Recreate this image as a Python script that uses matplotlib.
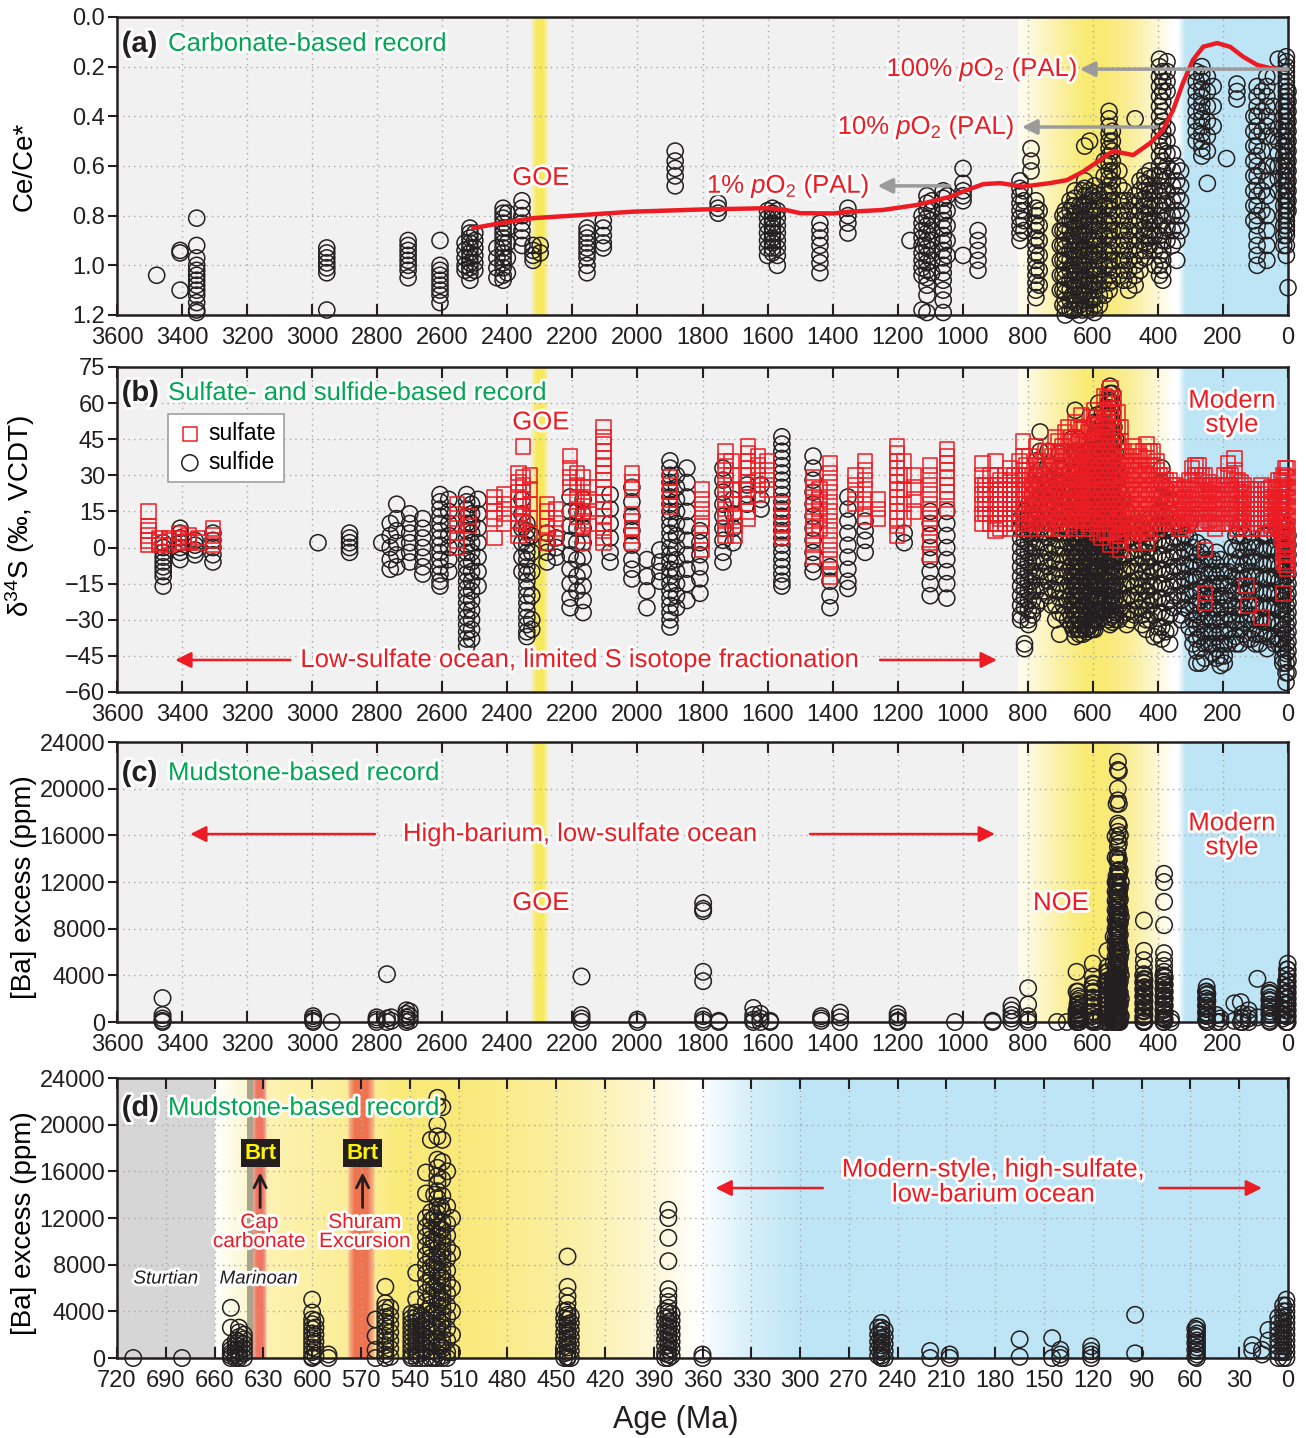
import numpy as np
import matplotlib
matplotlib.use("Agg")
import matplotlib.pyplot as plt
from matplotlib import patheffects as pe
from matplotlib.colors import to_rgb

plt.rcParams['font.family'] = ['Liberation Sans', 'DejaVu Sans']
plt.rcParams['mathtext.fontset'] = 'custom'
plt.rcParams['mathtext.rm'] = 'Liberation Sans'
plt.rcParams['mathtext.it'] = 'Liberation Sans:italic'
plt.rcParams['mathtext.bf'] = 'Liberation Sans:bold'

RED = '#ed1c24'
GREEN = '#00a651'
INK = '#231f20'

# ---------------- (a) carbonate Ce/Ce* ----------------
ce_age = [3478, 3406, 3355, 2955, 2705, 2607, 2530, 2515, 2500, 2432, 2413, 2400,
          2355, 2321, 2299, 2155, 2105, 1884, 1752, 1600, 1585, 1570, 1439, 1353,
          1162, 1125, 1110, 1095, 1060, 1048, 999, 953,
          824, 812, 790, 775, 765, 700, 685, 670, 655, 640, 625, 610, 595, 580, 565,
          550, 540, 520, 505, 490, 470, 455, 440, 425, 410, 395, 385, 372, 355, 342,
          330, 282, 265, 248, 230, 189, 157, 105, 95, 80, 65, 45, 30, 13, 5, 0,
          692, 662, 632, 602]
ce_val = [
    [1.04], [0.94, 0.95, 1.10],
    [0.81, 0.92, 0.97, 1.00, 1.02, 1.04, 1.06, 1.08, 1.10, 1.12, 1.15, 1.18, 1.19],
    [0.93, 0.95, 0.97, 0.99, 1.01, 1.03, 1.18],
    [0.90, 0.92, 0.94, 0.96, 0.98, 1.00, 1.02, 1.05],
    [0.90, 1.00, 1.02, 1.04, 1.06, 1.08, 1.10, 1.12, 1.15],
    [0.91, 0.94, 0.97, 1.00, 1.02],
    [0.85, 0.87, 0.89, 0.91, 0.93, 0.95, 0.97, 0.99, 1.01, 1.03, 1.06],
    [0.87, 0.90, 0.93, 0.96, 0.99, 1.02],
    [0.93, 0.97, 1.01, 1.05],
    [0.77, 0.79, 0.81, 0.83, 0.85, 0.87, 0.89, 0.91, 0.93, 0.95, 0.97, 0.99, 1.01,
     1.04, 1.06],
    [0.79, 0.85, 0.91, 0.97, 1.03],
    [0.74, 0.77, 0.80, 0.83, 0.86, 0.89, 0.92],
    [0.92, 0.94, 0.96, 0.98], [0.92, 0.95],
    [0.85, 0.87, 0.89, 0.91, 0.93, 0.95, 0.97, 1.00, 1.03],
    [0.82, 0.85, 0.88, 0.91, 0.93],
    [0.54, 0.58, 0.61, 0.64, 0.68],
    [0.75, 0.77, 0.79],
    [0.78, 0.81, 0.84, 0.87, 0.90, 0.93, 0.96],
    [0.77, 0.79, 0.81, 0.83, 0.85, 0.87, 0.89, 0.91, 0.93, 0.95],
    [0.78, 0.81, 0.84, 0.87, 0.90, 0.93, 0.96, 1.00],
    [0.83, 0.86, 0.89, 0.92, 0.96, 0.99, 1.03],
    [0.77, 0.80, 0.83, 0.87],
    [0.90],
    [0.80, 0.83, 0.86, 0.89, 0.92, 0.95, 0.98, 1.01, 1.04, 1.18],
    [0.72, 0.75, 0.78, 0.81, 0.84, 0.87, 0.90, 0.93, 0.96, 0.99, 1.02, 1.05, 1.08,
     1.12, 1.19],
    [0.74, 0.78, 0.82, 0.86, 0.90, 0.94, 0.98, 1.03],
    [0.70, 0.73, 0.76, 0.79, 0.82, 0.85, 0.88, 0.91, 0.94, 0.97, 1.00, 1.03, 1.06,
     1.10, 1.14, 1.19],
    [0.72, 0.78, 0.84, 0.90, 0.96],
    [0.61, 0.67, 0.70, 0.72, 0.74, 0.96],
    [0.86, 0.90, 0.94, 0.98, 1.02],
    [0.66, 0.69, 0.72, 0.75, 0.78, 0.81, 0.84, 0.87, 0.90],
    [0.70, 0.74, 0.78, 0.82, 0.86],
    [0.53, 0.58, 0.62],
    [0.74, 0.77, 0.80, 0.83, 0.86, 0.89, 0.92, 0.95, 0.98, 1.01, 1.04, 1.07, 1.10,
     1.13],
    [0.78, 0.84, 0.90, 0.96, 1.02, 1.08],
    [0.86, 0.92, 0.98, 1.04, 1.10],
    [0.78, 0.81, 0.84, 0.87, 0.90, 0.93, 0.96, 0.99, 1.02, 1.05, 1.08, 1.11, 1.14,
     1.17, 1.20],
    [0.74, 0.78, 0.82, 0.86, 0.90, 0.94, 0.98, 1.02, 1.06, 1.10, 1.14, 1.18],
    [0.70, 0.73, 0.76, 0.79, 0.82, 0.85, 0.88, 0.91, 0.94, 0.97, 1.00, 1.03, 1.06,
     1.09, 1.12, 1.15, 1.18],
    [0.76, 0.80, 0.84, 0.88, 0.92, 0.96, 1.00, 1.04, 1.08, 1.12, 1.16, 1.20],
    [0.52, 0.66, 0.69, 0.72, 0.75, 0.78, 0.81, 0.84, 0.87, 0.90, 0.93, 0.96, 0.99,
     1.02, 1.05, 1.08, 1.11, 1.14, 1.17],
    [0.50, 0.70, 0.74, 0.78, 0.82, 0.86, 0.90, 0.94, 0.98, 1.02, 1.06, 1.10, 1.14,
     1.18],
    [0.68, 0.71, 0.74, 0.77, 0.80, 0.83, 0.86, 0.89, 0.92, 0.95, 0.98, 1.01, 1.04,
     1.07, 1.10, 1.13, 1.16, 1.19],
    [0.72, 0.76, 0.80, 0.84, 0.88, 0.92, 0.96, 1.00, 1.04, 1.08, 1.12, 1.16],
    [0.58, 0.64, 0.70, 0.76, 0.82, 0.88, 0.94, 1.00, 1.06, 1.12],
    [0.38, 0.41, 0.44, 0.47, 0.50, 0.53, 0.56, 0.59, 0.62, 0.65, 0.68, 0.71, 0.74,
     0.77, 0.80, 0.83, 0.86, 0.89, 0.92, 0.95, 0.98, 1.01, 1.04, 1.07, 1.10],
    [0.46, 0.50, 0.54, 0.58, 0.62, 0.66, 0.70, 0.74, 0.78, 0.82, 0.86, 0.90, 0.94,
     0.98, 1.02, 1.06],
    [0.62, 0.68, 0.74, 0.80, 0.86, 0.92, 0.98, 1.04],
    [0.70, 0.74, 0.78, 0.82, 0.86, 0.90, 0.94, 0.98, 1.02, 1.06],
    [0.74, 0.78, 0.82, 0.86, 0.90, 0.94, 0.98, 1.02, 1.06, 1.10],
    [0.41, 0.72, 0.76, 0.80, 0.84, 0.88, 0.92, 0.96, 1.00, 1.04, 1.08],
    [0.66, 0.70, 0.74, 0.78, 0.82, 0.86, 0.90, 0.94, 0.98, 1.02],
    [0.64, 0.67, 0.70, 0.73, 0.76, 0.79, 0.82, 0.85, 0.88, 0.91, 0.94, 0.97],
    [0.62, 0.65, 0.68, 0.71, 0.74, 0.77, 0.80, 0.83, 0.86, 0.89, 0.92],
    [0.64, 0.70, 0.76, 0.82, 0.88, 0.94, 1.00],
    [0.17, 0.20, 0.24, 0.28, 0.32, 0.36, 0.40, 0.44, 0.48, 0.52, 0.56, 0.60, 0.64,
     0.68, 0.72, 0.76, 0.80, 0.84, 0.88, 0.92, 0.96, 1.00, 1.04],
    [0.22, 0.26, 0.30, 0.34, 0.38, 0.42, 0.46, 0.50, 0.54, 0.58, 0.62, 0.66, 0.70,
     0.74, 0.78, 0.82, 0.86, 0.90, 0.94, 0.98, 1.02, 1.06],
    [0.18, 0.22, 0.26, 0.30, 0.45, 0.50, 0.55, 0.60, 0.65, 0.70, 0.75, 0.80, 0.85,
     0.90],
    [0.55, 0.62, 0.68, 0.74, 0.80, 0.86, 0.92],
    [0.60, 0.66, 0.72, 0.78, 0.84, 0.90, 0.98],
    [0.62, 0.68, 0.74, 0.80, 0.86],
    [0.22, 0.26, 0.30, 0.34, 0.38, 0.42, 0.46, 0.50],
    [0.20, 0.23, 0.26, 0.29, 0.32, 0.35, 0.38, 0.41, 0.44, 0.47, 0.50, 0.53, 0.56],
    [0.24, 0.30, 0.36, 0.42, 0.48, 0.54, 0.67],
    [0.28, 0.36, 0.44],
    [0.57],
    [0.27, 0.30, 0.33],
    [0.40, 0.46, 0.52, 0.58, 0.64, 0.70, 0.76, 0.82],
    [0.28, 0.32, 0.36, 0.40, 0.44, 0.48, 0.52, 0.56, 0.60, 0.64, 0.68, 0.72, 0.76,
     0.80, 0.84, 0.88, 0.92, 0.96, 1.00],
    [0.30, 0.38, 0.46, 0.54, 0.62, 0.70, 0.78],
    [0.24, 0.28, 0.32, 0.36, 0.40, 0.44, 0.48, 0.60, 0.66, 0.72, 0.80, 0.86, 0.92,
     0.98],
    [0.24, 0.36, 0.48, 0.60],
    [0.17, 0.45, 0.50, 0.55, 0.60, 0.65, 0.70],
    [0.36, 0.40, 0.44, 0.48, 0.52, 0.56, 0.60, 0.64, 0.68, 0.72, 0.76, 0.80, 0.84,
     0.88, 0.92],
    [0.16, 0.18, 0.20, 0.22, 0.24, 0.26, 0.28, 0.30, 0.32, 0.34, 0.36, 0.38, 0.40,
     0.42, 0.44, 0.46, 0.48, 0.50, 0.52, 0.54, 0.56, 0.58, 0.60, 0.62, 0.64, 0.66,
     0.68, 0.70, 0.72, 0.74, 0.76, 0.78, 0.80, 0.82, 0.84, 0.86, 0.88, 0.92, 0.96],
    [0.30, 0.34, 0.38, 0.42, 0.46, 0.50, 0.54, 0.58, 0.62, 0.66, 0.70, 0.74, 0.78,
     1.09],
    [0.80, 0.86, 0.92, 0.98, 1.04, 1.10, 1.16],
    [0.76, 0.82, 0.88, 0.94, 1.00, 1.06, 1.12, 1.18],
    [0.70, 0.76, 0.82, 0.88, 0.94, 1.00, 1.06, 1.12, 1.18],
    [0.72, 0.78, 0.84, 0.90, 0.96, 1.02, 1.08, 1.14],
]

# smoothed Ce/Ce* trend
trend_age = [2505, 2420, 2321, 2200, 2014, 1800, 1602, 1550, 1500, 1399, 1346, 1245,
             1141, 1039, 987, 937, 885, 815, 732, 680, 630, 578, 538, 476, 424, 384,
             353, 323, 292, 261, 218, 178, 138, 95, 55, 3, 0]
trend_ce = [0.850, 0.830, 0.810, 0.800, 0.784, 0.775, 0.770, 0.775, 0.790, 0.791,
            0.784, 0.777, 0.757, 0.724, 0.697, 0.673, 0.669, 0.683, 0.669, 0.657,
            0.623, 0.576, 0.540, 0.556, 0.508, 0.455, 0.374, 0.266, 0.173, 0.120,
            0.105, 0.120, 0.160, 0.193, 0.206, 0.213, 0.214]

# ---------------- (b) sulfur isotopes ----------------
sulfide_age = [3458, 3406, 3360, 3305, 2982, 2885, 2786, 2760, 2740, 2700, 2660, 2607,
               2580, 2525, 2510, 2490, 2355, 2340, 2325, 2278, 2250, 2207, 2186, 2167,
               2084, 2017, 1971, 1931, 1900, 1880, 1848, 1808, 1737, 1706, 1663, 1620,
               1556, 1460, 1408, 1353, 1300, 1180, 1100, 1049,
               822, 810, 798, 786, 774, 762, 750, 738, 726, 714, 702, 690, 678, 666,
               654, 642, 630, 618, 606, 594, 582, 570, 558, 547, 540, 530, 520, 508,
               496, 484, 472, 460, 448, 436, 424, 412, 400, 388, 376, 364, 352, 340,
               328, 316, 304, 292, 280, 268, 256, 244, 232, 220, 208, 196, 184, 172,
               160, 148, 136, 124, 112, 100, 88, 76, 64, 52, 40, 28, 16, 6, 0,
               660, 648, 636, 624, 612, 600, 588, 576, 564, 552, 535]
sulfide_d34s = [
    [2, 0, -2, -4, -6, -8, -10, -12, -16], [8, 6, 4, 2, 0, -2, -5], [3, 1, -1, -3],
    [6, 3, 0, -3, -6], [2], [6, 4, 2, 0, -2], [2], [10, 5, 0, -5, -9],
    [18, 12, 7, 2, -3, -8], [14, 10, 6, 2, -2, -6], [12, 8, 4, 0, -4, -8, -11],
    [22, 19, 16, 13, 10, 7, 4, 1, -2, -5, -8, -11, -14, -16],
    [20, 15, 10, 5, 0, -5, -10],
    [22, 19, 16, 13, 10, 7, 4, 1, -2, -5, -8, -11, -14, -17, -20, -23, -26, -29, -32,
     -35, -38, -41],
    [18, 14, 10, 6, 2, -2, -6, -10, -14, -18, -22, -26, -30, -34, -38],
    [20, 14, 8, 2, -4, -10, -16], [20, 14, 8, 2, -4, -10],
    [10, 7, 4, 1, -2, -5, -8, -11, -14, -17, -20, -23, -26, -29, -32, -35, -37],
    [5, -2, -10, -20, -30, -34],
    [6, 2, -2, -6], [4, 0, -4], [21, 15, 9, 3, -3, -9, -15, -21, -25],
    [15, 8, 2, -5, -12, -18], [20, 14, 8, 2, -4, -10, -16, -22, -27],
    [22, 16, 10, 4, -2, -6], [25, 19, 13, 7, 1, -5, -9, -13], [-5, -12, -18, -25],
    [-1, -6, -10, -14],
    [36, 33, 30, 27, 24, 21, 18, 15, 12, 9, 6, 3, 0, -3, -6, -9, -12, -15, -18, -21,
     -24, -27, -30, -33],
    [30, 25, 20, 15, 10, 5, 0, -5, -10, -15, -20, -25],
    [33, 27, 21, 15, 9, 3, -3, -9, -15, -22], [7, 2, -3, -8, -13, -19],
    [33, 28, 23, 18, 13, 8, 3, -2, -6], [20, 14, 8, 2], [26, 22, 18], [26, 20, 16],
    [46, 43, 40, 37, 34, 31, 28, 25, 22, 19, 16, 13, 10, 7, 4, 1, -2, -5, -8, -11,
     -14, -16],
    [38, 33, 28, 23, 18, 13, 8, 3, -2, -7, -10], [-8, -14, -20, -25],
    [21, 16, 11, 6, 1, -4, -9, -14, -17], [11, 7, 3, -2], [6, 2],
    [15, 10, 5, 0, -5, -10, -15, -20], [15, 10, 5, 0, -5, -10, -15, -21],
    [12, 8, 4, 0, -4, -8, -12, -16, -20, -24, -28, -30],
    [15, 11, 7, 3, -1, -5, -9, -13, -17, -21, -25, -40, -42],
    [18, 14, 10, 6, 2, -2, -6, -10, -14, -18, -22, -26, -30, -32],
    [26, 22, 18, 14, 10, 6, 2, -2, -6, -10, -14, -18, -22, -26, -28],
    [36, 30, 24, 18, 12, 6, 0, -6, -12, -18, -24],
    [48, 40, 32, 26, 20, 14, 8, 2, -4, -10, -16, -22],
    [30, 24, 18, 12, 6, 0, -6, -12, -18],
    [40, 34, 28, 22, 16, 10, 4, -2, -8, -14, -20],
    [25, 19, 13, 7, 1, -5, -11, -17, -24],
    [30, 24, 18, 12, 6, 0, -6, -12, -18, -24, -30],
    [39, 33, 27, 21, 15, 9, 3, -3, -9, -15, -21, -27, -36],
    [30, 24, 18, 12, 6, 0, -6, -12, -18, -24, -28],
    [20, 14, 8, 2, -4, -10, -16, -22, -30],
    [45, 38, 32, 26, 20, 14, 8, 4, 0, -4, -8, -12, -16, -20, -24, -28, -32],
    [57, 40, 34, 28, 22, 16, 12, 8, 4, 0, -4, -8, -12, -16, -20, -24, -28, -32, -37],
    [45, 38, 32, 26, 20, 14, 10, 6, 2, -2, -6, -10, -14, -18, -22, -26, -30, -34,
     -36],
    [40, 34, 28, 22, 16, 12, 8, 4, 0, -4, -8, -12, -16, -20, -24, -28, -32, -36],
    [35, 29, 23, 17, 11, 7, 3, -1, -5, -9, -13, -17, -21, -25, -29, -33, -35],
    [40, 34, 28, 22, 16, 10, 4, -2, -8, -14, -20, -26, -32, -34],
    [52, 46, 40, 34, 28, 22, 16, 10, 4, -2, -8, -14, -20, -26, -30, -34],
    [60, 52, 44, 38, 32, 26, 20, 14, 8, 2, -4, -10, -16, -22, -26, -30],
    [56, 48, 42, 36, 30, 24, 18, 12, 6, 0, -6, -12, -18, -22, -26],
    [50, 44, 38, 32, 26, 20, 14, 8, 2, -4, -10, -16, -22, -28],
    [67, 64, 61, 58, 55, 52, 49, 46, 43, 40, 37, 34, 31, 28, 25, 22, 19, 16, 13, 10,
     7, 4, 1, -2, -5, -8, -11, -14, -17, -20, -23, -26, -29, -32],
    [64, 60, 56, 52, 48, 44, 40, 36, 32, 28, 24, 20, 16, 12, 8, 4, 0, -4, -8, -12,
     -16, -20, -24, -28, -31],
    [45, 39, 33, 27, 21, 15, 9, 3, -3, -9, -15, -21, -27, -30],
    [30, 24, 18, 12, 6, 0, -6, -12, -18, -24, -30],
    [20, 14, 8, 2, -4, -10, -16, -22, -28],
    [15, 9, 3, -3, -9, -15, -21, -27, -32],
    [10, 4, -2, -8, -14, -20, -26, -30],
    [8, 2, -4, -10, -16, -22, -28],
    [5, -1, -7, -13, -19, -25],
    [8, 2, -4, -10, -16, -22, -28, -32],
    [10, 6, 2, -2, -6, -10, -14, -18, -22, -26, -30, -34],
    [12, 8, 4, 0, -4, -8, -12, -16, -20, -24, -30],
    [8, 2, -4, -10, -16, -22, -28, -37],
    [15, 9, 3, -3, -9, -15, -21, -27, -33, -36],
    [33, 27, 21, 15, 9, 3, -3, -9, -15, -21, -27, -33, -38],
    [25, 19, 13, 7, 1, -5, -11, -17, -23, -29, -35],
    [20, 14, 8, 2, -4, -10, -16, -22, -28, -34, -40],
    [10, 4, -2, -8, -14, -20, -25],
    [10, 4, -2, -8, -14, -20],
    [8, 2, -4, -10, -16, -22, -28, -30],
    [5, -1, -7, -13, -19, -25],
    [10, 4, -2, -8, -14, -20, -26, -33],
    [0, -6, -12, -18, -24, -30, -36, -40],
    [2, -3, -8, -13, -18, -23, -28, -33, -38, -43, -48],
    [-2, -7, -12, -17, -22, -27, -32, -37, -42, -48],
    [0, -5, -10, -15, -20, -25, -30, -35, -40, -46],
    [-5, -11, -17, -23, -29, -35, -40],
    [-5, -10, -15, -20, -25, -30, -35, -40, -44],
    [-2, -7, -12, -17, -22, -27, -32, -37, -42, -46],
    [-5, -10, -15, -20, -25, -30, -35, -40, -45, -49],
    [-10, -15, -20, -25, -30, -35, -40, -45, -48],
    [-10, -16, -22, -28, -34, -40],
    [0, -6, -12, -18, -24, -30, -38],
    [5, -1, -7, -13, -19, -25, -31, -37, -40],
    [8, 2, -4, -10, -16, -22, -28, -34, -40],
    [5, -1, -7, -13, -19, -25, -31, -36],
    [0, -6, -12, -18, -24, -30, -38],
    [2, -4, -10, -16, -22, -28, -34, -38],
    [0, -6, -12, -18, -24, -30, -36, -40],
    [0, -6, -12, -18, -24, -30, -36, -40],
    [5, -1, -7, -13, -19, -25, -31, -36],
    [5, -1, -7, -13, -19, -25, -31, -37, -42],
    [0, -6, -12, -18, -24, -30, -38],
    [5, -1, -7, -13, -19, -25, -31, -37, -40],
    [10, 4, -2, -8, -14, -20, -26, -32, -38, -40],
    [10, 6, 2, -2, -6, -10, -14, -18, -22, -26, -30, -34, -38, -42, -46, -48],
    [8, 4, 0, -4, -8, -12, -16, -20, -24, -28, -32, -36, -40, -44, -48, -52, -56],
    [5, 1, -3, -7, -11, -15, -19, -23, -27, -31, -35, -39, -43, -47, -52],
    [30, 24, 18, 12, 6, 2, -2, -6, -10, -14, -18, -22, -26, -30, -34],
    [40, 32, 26, 20, 14, 8, 2, -4, -10, -16, -22, -28, -34],
    [36, 28, 22, 16, 10, 6, 2, -2, -6, -10, -14, -18, -22, -26, -30, -34],
    [30, 24, 18, 12, 6, 0, -6, -12, -18, -24, -30, -34],
    [32, 26, 20, 14, 8, 2, -4, -10, -16, -22, -28, -33],
    [45, 38, 31, 24, 18, 12, 6, 0, -6, -12, -18, -24, -30, -34],
    [55, 48, 41, 34, 27, 21, 15, 9, 3, -3, -9, -15, -21, -27, -31],
    [50, 43, 37, 31, 25, 19, 13, 7, 1, -5, -11, -17, -23, -27],
    [46, 40, 34, 28, 22, 16, 10, 4, -2, -8, -14, -20, -26],
    [60, 54, 48, 42, 36, 30, 24, 18, 12, 6, 0, -6, -12, -18, -24, -30],
    [50, 44, 38, 32, 26, 20, 14, 8, 2, -4, -10, -16, -22, -28],
]

sulfate_age = [3504, 3470, 3440, 3410, 3380, 3350, 3305, 2555, 2520, 2440, 2410, 2365,
               2352, 2330, 2278, 2250, 2207, 2186, 2167, 2150, 2105, 2017, 1900, 1802,
               1730, 1710, 1700, 1660, 1630, 1602, 1556, 1460, 1440, 1408, 1330, 1300,
               1260, 1202, 1180, 1150, 1100, 1049, 940, 930, 915, 900, 885, 870, 855,
               840, 825, 815, 805, 795, 785, 775, 765, 755, 745, 735, 725, 715, 705,
               695, 685, 675, 665, 655, 645, 635, 625, 615, 605, 595, 585, 575, 565,
               555, 545, 535, 525, 515, 505, 495, 485, 475, 465, 455, 445, 435, 425,
               415, 405, 395, 385, 375, 365, 355, 345, 335, 325, 315, 305, 295, 285,
               275, 265, 255, 245, 235, 225, 215, 205, 195, 185, 175, 165, 155, 145,
               135, 127, 122, 115, 105, 95, 81, 70, 60, 50, 40, 30, 20, 14, 8, 2]
sulfate_d34s = [
    [15, 9, 7, 5, 3, 1], [4, 2, 1], [4, 3, 1], [6, 4, 2], [5, 3, 2], [4, 2],
    [8, 5, 3, 1], [18, 14, 10, 6, 3, 0], [13, 9], [21, 18, 15, 12, 4],
    [22, 18, 14, 10], [31, 27, 23, 20, 17, 14, 11, 8, 5],
    [42, 29, 26, 23, 20, 17, 13, 10], [30, 24, 18, 12, 6], [18, 15, 12, 9, 6, 2],
    [16, 12, 8, 4], [38, 33, 29, 25], [31, 26, 21, 16, 13],
    [29, 25, 21, 17, 13, 9, 5, 2], [25, 20, 15, 10],
    [50, 46, 43, 40, 37, 34, 31, 28, 25, 22, 19, 16, 13, 10, 7, 4, 2],
    [31, 27, 24, 14, 11, 8, 5, 2], [29, 26, 23, 20, 17], [24, 20, 16, 12, 9, 3, -1],
    [40, 36, 32, 28, 24, 20, 16, 12, 8, 5], [36, 30, 24, 18], [13, 9, 5],
    [42, 39, 36, 33, 30, 27, 24, 21, 18, 15, 12], [38, 34, 30, 26, 22],
    [36, 32, 28, 24], [18, 15, 12, 9, 6, 4], [29, 25, 21, 17, 13, 9, 5, 1, -4],
    [24, 20, 16, 12, 8], [35, 31, 27, 23, 19, 15, 11, 7, 3, -1, -5, -9, -12],
    [30, 26, 22, 18], [36, 32, 28, 24, 20, 16, 13], [20, 16, 12],
    [42, 39, 36, 33, 30, 27, 24, 21, 18, 15, 12, 9, 5], [36, 30, 24, 18, 12],
    [30, 25, 20, 15], [34, 30, 26, 22, 18, 14, 10, 6, 2, -3],
    [41, 38, 35, 32, 29, 26, 23, 20, 16],
    [35, 30, 26, 22, 18, 14, 10], [26, 22, 18, 14], [30, 26, 22, 18, 14, 10],
    [36, 30, 26, 22, 18, 14, 10, 7], [28, 24, 20, 16, 12, 8], [30, 26, 22, 18, 14, 10],
    [33, 28, 24, 20, 16, 12, 8], [30, 26, 22, 18, 14, 10],
    [36, 30, 26, 22, 18, 14, 10], [44, 38, 32, 28, 24, 20, 16, 12, 8],
    [34, 30, 26, 22, 18, 14, 10], [38, 32, 28, 24, 20, 16, 12, 8],
    [30, 26, 22, 18, 14, 10], [42, 36, 30, 26, 22, 18, 14, 10],
    [34, 30, 26, 22, 18, 14, 10], [36, 30, 26, 22, 18, 14, 10],
    [40, 34, 28, 24, 20, 16, 12, 8], [40, 34, 30, 26, 22, 18, 14, 10],
    [38, 32, 28, 24, 20, 16, 12], [46, 40, 34, 30, 26, 22, 18, 14, 10],
    [44, 38, 32, 28, 24, 20, 16, 12, 8], [42, 36, 32, 28, 24, 20, 16, 12, 8],
    [48, 42, 36, 32, 28, 24, 20, 16, 12, 8], [50, 44, 38, 34, 30, 26, 22, 18, 14, 10],
    [46, 40, 36, 32, 28, 24, 20, 16, 12], [52, 46, 40, 36, 32, 28, 24, 20, 16, 12, 8],
    [50, 44, 40, 36, 32, 28, 24, 20, 16, 12], [55, 49, 43, 39, 35, 31, 27, 23, 19, 15, 11],
    [50, 44, 40, 36, 32, 28, 24, 20, 16, 12, 8], [48, 42, 38, 34, 30, 26, 22, 18, 14, 10],
    [54, 48, 44, 40, 36, 32, 28, 24, 20, 16, 12, 8],
    [57, 51, 46, 42, 38, 34, 30, 26, 22, 18, 14, 10],
    [54, 48, 44, 40, 36, 32, 28, 24, 20, 16, 12, 6],
    [50, 46, 42, 38, 34, 30, 26, 22, 18, 14, 10, 4],
    [63, 57, 52, 48, 44, 40, 36, 32, 28, 24, 20, 16, 12, 7],
    [62, 56, 52, 48, 44, 40, 36, 32, 28, 24, 20, 16, 12, 6],
    [66, 62, 58, 54, 50, 46, 42, 38, 34, 30, 26, 22, 18, 14, 10, 6, 1],
    [62, 56, 50, 46, 42, 38, 34, 30, 26, 22, 18, 14, 10],
    [56, 50, 44, 40, 36, 32, 28, 24, 20, 16, 12, 8, 3],
    [50, 44, 38, 34, 30, 26, 22, 18, 14, 10, 5, -1],
    [40, 36, 32, 28, 24, 20, 16, 12, 8], [38, 34, 30, 26, 22, 18, 14, 10, 6],
    [36, 32, 28, 24, 20, 16, 12, 8], [42, 36, 32, 28, 24, 20, 16, 12, 8, 2],
    [40, 34, 30, 26, 22, 18, 14, 10, 6], [38, 34, 30, 26, 22, 18, 14, 10, 6],
    [40, 34, 30, 26, 22, 18, 14, 10, 6], [43, 37, 32, 28, 24, 20, 16, 12, 8, 2],
    [40, 34, 30, 26, 22, 18, 14, 10, 6], [40, 34, 30, 26, 22, 18, 14, 10],
    [36, 32, 28, 24, 20, 16, 12, 8], [30, 26, 22, 18, 14, 10], [30, 26, 22, 18, 14, 10],
    [28, 24, 20, 16, 12], [28, 24, 20, 16, 12], [26, 22, 18, 14, 10],
    [26, 22, 18, 14, 10], [24, 20, 16, 12, 8], [24, 20, 16, 12, 8],
    [25, 21, 17, 13, 9], [28, 24, 20, 16, 12], [33, 28, 24, 20, 16, 12],
    [34, 30, 26, 22, 18, 14, 10], [34, 30, 26, 22, 18, 14, 10],
    [30, 26, 22, 18, 14, 10], [30, 26, 22, 18, 14, 10, -1, -19, -23],
    [27, 23, 19, 15, 11], [26, 22, 18, 14, 10], [24, 20, 16, 12, 8],
    [26, 22, 18, 14, 10], [26, 22, 18, 14, 10], [30, 26, 22, 18, 14, 10],
    [35, 30, 26, 22, 18, 14, 10], [30, 26, 22, 18, 14, 10],
    [37, 32, 28, 24, 20, 16, 12], [28, 24, 20, 16, 12, 8], [27, 23, 19, 15, 11],
    [26, 22, 18, 14, 10], [24, 20, 16, 12, 8, -16], [-24], [24, 20, 16, 12, 8],
    [22, 18, 14, 10], [24, 20, 16, 12, 8], [26, 22, 18, 14, 10, -29],
    [24, 20, 16, 12, 8], [24, 20, 16, 12, 8], [25, 21, 17, 13, 9],
    [25, 21, 17, 13, 9], [28, 24, 20, 16, 12, 8], [28, 24, 20, 16, 12, 8, 4],
    [30, 26, 22, 18, 14, 10, 6, 2, -2, -6, -19],
    [33, 29, 25, 21, 17, 13, 9, 5, 1, -3, -7],
    [33, 29, 25, 21, 17, 13, 9, 5, 1, -3, -7, -9],
]

# ---------------- (c, d) mudstone Ba excess ----------------
ba_age = [3460, 2997, 2940, 2802, 2770, 2757, 2710, 2700, 2172, 2000, 1798, 1750, 1644,
          1622, 1592, 1435, 1377, 1200, 1024, 908, 850, 799, 710, 680, 650, 647, 645,
          642, 600, 598, 590, 561, 555, 552, 539, 536, 533, 530, 527, 523, 520, 517,
          514, 445, 443, 441, 383, 381, 379, 360, 252, 250, 248, 220, 208, 165, 145,
          140, 121, 94, 57, 56, 22, 16, 12, 6, 3, 1, 525, 521]
ba_ppm = [
    [2050, 600, 300, 100, 0], [500, 300, 100, 0], [0], [400, 200, 0], [4100, 300, 0],
    [400, 100], [1000, 700, 400, 200, 0], [900, 500, 100], [3900, 600, 300, 0],
    [200, 0], [10200, 9700, 9500, 4300, 3500, 500, 200, 0], [100, 0],
    [1200, 600, 200, 0], [700, 300, 0], [100, 0], [500, 300, 100], [800, 400, 0],
    [700, 400, 100, 0], [0], [100, 0], [1400, 1000, 600, 300, 0],
    [2900, 1500, 500, 200, 0], [0], [0],
    [4300, 2600, 1000, 700, 400, 200, 0], [1500, 1100, 700, 300, 0],
    [2600, 2200, 1800, 1400, 1000, 600, 200, 0], [2000, 1600, 1200, 800, 400, 0],
    [5000, 3900, 3300, 2900, 2500, 2100, 1700, 1300, 900, 500, 100, 0],
    [3200, 2600, 2000, 1400, 800, 200], [300, 0], [3300, 1900, 700, 0],
    [6100, 4700, 4300, 3900, 3500, 3100, 2700, 2300, 1900, 1500, 1100, 700, 300, 0],
    [4300, 3600, 2900, 2200, 1500, 800, 100],
    [3800, 3400, 3000, 2600, 2200, 1800, 1400, 1000, 600, 200, 0],
    [7300, 5000, 3900, 3500, 3100, 2700, 2300, 1900, 1500, 1100, 700, 300, 0],
    [3600, 3200, 2800, 2400, 2000, 1600, 1200, 800, 400, 0],
    [15900, 14100, 12000, 11200, 10400, 9600, 8800, 8000, 7200, 6400, 5600, 4800,
     4000, 3200, 2400, 1600, 800, 0],
    [18700, 12500, 11800, 11000, 10200, 9400, 8600, 7800, 7000, 6200, 5400, 4600,
     3800, 3000, 2200, 1400, 600, 0],
    [22300, 21600, 20000, 19000, 17000, 16300, 15600, 15000, 14300, 13700, 13000,
     12400, 11800, 11200, 10600, 10000, 9400, 8800, 8200, 7600, 7000, 6400, 5800,
     5200, 4600, 4000, 3400, 2800, 2200, 1600, 1000, 400, 0],
    [21500, 18700, 16800, 15300, 13900, 12600, 11600, 11000, 10400, 9800, 9200, 8600,
     8000, 7400, 6800, 6200, 5600, 5000, 4400, 3800, 3200, 2600, 2000, 1400, 800,
     200, 0],
    [16000, 13000, 11500, 10500, 9500, 8500, 7500, 6500, 5500, 4500, 3500, 2500,
     1500, 500, 0],
    [12000, 9000, 6000, 4000, 2000, 500],
    [4000, 3400, 2800, 2200, 1600, 1000, 400, 0],
    [8700, 6100, 5300, 4700, 4100, 3700, 3300, 2900, 2500, 2100, 1700, 1300, 900,
     500, 100, 0],
    [3600, 3000, 2400, 1800, 1200, 600, 0],
    [4000, 3400, 2800, 2200, 1600, 1000, 400, 0],
    [12700, 12000, 10300, 8300, 5900, 5300, 4800, 4300, 3900, 3500, 3100, 2700,
     2300, 1900, 1500, 1100, 700, 300, 0],
    [3800, 3200, 2600, 2000, 1400, 800, 200],
    [300, 0], [2600, 2000, 1400, 800, 200],
    [3000, 2600, 2300, 2000, 1700, 1400, 1100, 800, 500, 200, 0],
    [2400, 1800, 1200, 600, 0], [600, 0], [300, 0], [1600, 100], [1700, 0],
    [700, 300, 0], [1000, 600, 300, 0], [3700, 400], [2500, 1900, 1300, 700, 100],
    [2700, 2400, 2100, 1800, 1500, 1200, 900, 600, 300, 0], [1100, 600], [700, 300],
    [2400, 1500], [3500, 3000, 2500, 2000, 1500, 1000, 500, 0],
    [4500, 4000, 3500, 3000, 2500, 2000, 1500, 1000, 500, 0],
    [5000, 4500, 4000, 3500, 3000, 2500, 2000, 1500, 1000, 500, 0],
    [14000, 12000, 10000, 8000, 6000, 4000, 2000, 0],
    [13000, 11000, 9000, 7000, 5000, 3000, 1000],
]

# background colour stops (age, colour)
deep_time_bg = [
    (0, '#bde5f5'), (315, '#bee6f5'), (338, '#ffffff'), (352, '#ffffff'),
    (372, '#fffcee'), (420, '#fcf5c8'), (480, '#faef9c'), (560, '#f9ea74'),
    (620, '#f9ea72'), (700, '#fbf0a2'), (780, '#fdf8d6'), (829, '#fffdf3'),
    (830, '#f1f1f1'), (2272, '#f1f1f1'), (2282, '#f9ef8c'), (2292, '#f7e85c'),
    (2308, '#f7e85c'), (2318, '#f9ef8c'), (2328, '#f1f1f1'), (3600, '#f1f1f1'),
]
phanero_bg = [
    (0, '#bde5f5'), (300, '#bee6f5'), (330, '#d6eff9'), (350, '#eef8fc'),
    (362, '#ffffff'), (375, '#fffcec'), (400, '#fdf6cc'), (440, '#fbf0a6'),
    (490, '#faeb84'), (520, '#f9e978'), (548, '#f9ea7a'), (561, '#fbed90'),
    (562.5, '#f6b48a'), (566, '#ee7450'), (574, '#ee7450'), (577, '#f6b48a'),
    (578.5, '#fbee98'), (600, '#fcf0a4'), (627.8, '#fcf2b2'), (628.5, '#f6b0a0'),
    (630.5, '#ef7560'), (634, '#ef7560'), (636, '#f5a596'), (636.3, '#a9a58c'),
    (640, '#a9a58c'), (640.3, '#fdf7d2'), (650, '#fefbe6'), (659.8, '#ffffff'),
    (660, '#d5d6d5'), (720, '#d5d6d5'),
]

halo = [pe.withStroke(linewidth=4, foreground='white')]


def columns(ages, vals):
    x = np.concatenate([np.full(len(v), a, dtype=float) for a, v in zip(ages, vals)])
    y = np.concatenate([np.asarray(v, dtype=float) for v in vals])
    return x, y


def shade(ax, stops, x0, x1, y0, y1):
    a = np.array([s[0] for s in stops], dtype=float)
    c = np.array([to_rgb(s[1]) for s in stops])
    xs = np.linspace(x0, x1, 8000)
    rgb = np.stack([np.interp(xs, a, c[:, k]) for k in range(3)], axis=-1)
    ax.imshow(rgb[np.newaxis], extent=(x0, x1, y0, y1), aspect='auto',
              interpolation='nearest', zorder=0)


def frame(ax, xticks, yticks, top_ticks=True):
    ax.set_xticks(xticks)
    ax.set_yticks(yticks)
    ax.tick_params(axis='x', direction='in', top=top_ticks, bottom=True, length=8,
                   width=1.5, labelsize=17, pad=8.5, colors=INK)
    ax.tick_params(axis='y', direction='out', left=True, right=False, length=6.5,
                   width=1.5, labelsize=17, pad=2, colors=INK)
    for s in ax.spines.values():
        s.set_linewidth(1.8)
        s.set_color(INK)
    ax.set_axisbelow(True)
    ax.grid(True, ls=(0, (1, 3)), color='#a8a8a8', lw=1.0)


def red_arrow(ax, tail, head, y):
    ax.annotate('', xy=(head, y), xytext=(tail, y),
                arrowprops=dict(arrowstyle='-|>', color=RED, lw=1.8,
                                mutation_scale=24, shrinkA=0, shrinkB=0), zorder=6)


def panel_title(ax, tag, title, y):
    ax.text(0.004, y, tag, transform=ax.transAxes, fontsize=21, fontweight='bold',
            color=INK, va='center', ha='left', path_effects=halo, zorder=7)
    ax.text(0.0436, y, title, transform=ax.transAxes, fontsize=18.5, color=GREEN,
            va='center', ha='left', path_effects=halo, zorder=7)


def red_text(ax, x, y, s, size=18.5, **kw):
    ax.text(x, y, s, color=RED, fontsize=size, path_effects=halo, zorder=7, **kw)


fig = plt.figure(figsize=(13.06, 14.38), dpi=100)
L, W = 117 / 1306, 1171 / 1306
ax_a = fig.add_axes([L, 0.78095, W, 0.20723])
ax_b = fig.add_axes([L, 0.51878, W, 0.22601])
ax_c = fig.add_axes([L, 0.28929, W, 0.19471])
ax_d = fig.add_axes([L, 0.05563, W, 0.19471])

circle_kw = dict(marker='o', facecolors='none', edgecolors=INK, linewidths=1.1,
                 zorder=3, clip_on=False)

# (a) Ce anomaly
shade(ax_a, deep_time_bg, 3600, 0, 0, 1.2)
x, y = columns(ce_age, ce_val)
ax_a.scatter(x, y, s=135, **circle_kw)
ax_a.plot(trend_age, trend_ce, color=RED, lw=3.2, zorder=4, solid_capstyle='round')
ax_a.set_xlim(3600, 0)
ax_a.set_ylim(1.2, 0.0)
frame(ax_a, np.arange(0, 3601, 200), np.arange(0, 1.21, 0.2), top_ticks=False)
ax_a.set_yticklabels([f'{v:.1f}' for v in np.arange(0, 1.21, 0.2)])
ax_a.set_ylabel('Ce/Ce*', fontsize=20)
ax_a.yaxis.set_label_coords(-0.068, 0.5)
panel_title(ax_a, '(a)', 'Carbonate-based record', 0.91)
red_text(ax_a, 2297, 0.648, 'GOE', ha='center', va='center')
for tail, head, lvl, txt_x, label in [(0, 640, 0.21, 645, '100% $p$O$_2$ (PAL)'),
                                      (403, 818, 0.443, 839, '10% $p$O$_2$ (PAL)'),
                                      (1040, 1262, 0.68, 1285, '1% $p$O$_2$ (PAL)')]:
    ax_a.annotate('', xy=(head, lvl), xytext=(tail, lvl),
                  arrowprops=dict(arrowstyle='-|>', color='#9b9b9b', lw=2.5,
                                  mutation_scale=22, shrinkA=0, shrinkB=0), zorder=5)
    red_text(ax_a, txt_x, lvl, label, ha='right', va='center')

# (b) sulfur isotopes
shade(ax_b, deep_time_bg, 3600, 0, -60, 75)
x, y = columns(sulfide_age, sulfide_d34s)
h_sulfide = ax_b.scatter(x, y, s=135, label='sulfide', **circle_kw)
x, y = columns(sulfate_age, sulfate_d34s)
h_sulfate = ax_b.scatter(x, y, s=110, marker='s', facecolors='none', edgecolors=RED,
                         linewidths=1.1, zorder=4, clip_on=False, label='sulfate')
ax_b.set_xlim(3600, 0)
ax_b.set_ylim(-60, 75)
frame(ax_b, np.arange(0, 3601, 200), np.arange(-60, 76, 15))
ax_b.set_ylabel('δ$^{34}$S (‰, VCDT)', fontsize=20)
ax_b.yaxis.set_label_coords(-0.068, 0.54)
panel_title(ax_b, '(b)', 'Sulfate- and sulfide-based record', 0.92)
red_text(ax_b, 2297, 52, 'GOE', ha='center', va='center')
red_text(ax_b, 172, 56, 'Modern\nstyle', ha='center', va='center', linespacing=1.0)
red_text(ax_b, 2175, -46.7, 'Low-sulfate ocean, limited S isotope fractionation',
         ha='center', va='center')
red_arrow(ax_b, 3067, 3421, -46.7)
red_arrow(ax_b, 1254, 895, -46.7)
leg = ax_b.legend(handles=[h_sulfate, h_sulfide], loc='upper left',
                  bbox_to_anchor=(0.0436, 0.855), borderaxespad=0, fontsize=16.5,
                  frameon=True, fancybox=False, edgecolor='#a0a0a0', framealpha=1,
                  handletextpad=0.2, borderpad=0.35, labelspacing=0.25,
                  handlelength=1.2, scatterpoints=1)
leg.get_frame().set_linewidth(1.2)
leg.set_zorder(8)

# (c) Ba excess, whole record
shade(ax_c, deep_time_bg, 3600, 0, 0, 24000)
x, y = columns(ba_age, ba_ppm)
ax_c.scatter(x, y, s=140, **circle_kw)
ax_c.set_xlim(3600, 0)
ax_c.set_ylim(0, 24000)
frame(ax_c, np.arange(0, 3601, 200), np.arange(0, 24001, 4000))
ax_c.set_ylabel('[Ba] excess (ppm)', fontsize=20)
ax_c.yaxis.set_label_coords(-0.068, 0.48)
panel_title(ax_c, '(c)', 'Mudstone-based record', 0.889)
red_text(ax_c, 2175, 16110, 'High-barium, low-sulfate ocean', ha='center', va='center')
red_arrow(ax_c, 2807, 3375, 16110)
red_arrow(ax_c, 1469, 901, 16110)
red_text(ax_c, 2297, 10200, 'GOE', ha='center', va='center')
red_text(ax_c, 698, 10200, 'NOE', ha='center', va='center')
red_text(ax_c, 172, 16000, 'Modern\nstyle', ha='center', va='center', linespacing=1.0)

# (d) Ba excess, last 720 Myr
shade(ax_d, phanero_bg, 720, 0, 0, 24000)
keep = x <= 720
ax_d.scatter(x[keep], y[keep], s=140, **circle_kw)
ax_d.set_xlim(720, 0)
ax_d.set_ylim(0, 24000)
frame(ax_d, np.arange(0, 721, 30), np.arange(0, 24001, 4000))
ax_d.set_ylabel('[Ba] excess (ppm)', fontsize=20)
ax_d.yaxis.set_label_coords(-0.068, 0.48)
panel_title(ax_d, '(d)', 'Mudstone-based record', 0.893)
for age in (632, 569):
    ax_d.text(age, 17570, 'Brt', fontsize=16, fontweight='bold', color='#fff200',
              ha='center', va='center', zorder=7,
              bbox=dict(boxstyle='square,pad=0.15', fc=INK, ec='none'))
    ax_d.annotate('', xy=(age, 15900), xytext=(age, 12900),
                  arrowprops=dict(arrowstyle='->', color=INK, lw=2,
                                  mutation_scale=22, shrinkA=0, shrinkB=0), zorder=6)
red_text(ax_d, 632.5, 10800, 'Cap\ncarbonate', size=15, ha='center', va='center',
         linespacing=1.0)
red_text(ax_d, 567.5, 10800, 'Shuram\nExcursion', size=15, ha='center', va='center',
         linespacing=1.0)
for age, name in [(690, 'Sturtian'), (633, 'Marinoan')]:
    ax_d.text(age, 6770, name, fontsize=13.5, style='italic', color=INK, ha='center',
              va='center', path_effects=halo, zorder=7)
red_text(ax_d, 181, 15080, 'Modern-style, high-sulfate,\nlow-barium ocean',
         ha='center', va='center', linespacing=1.05)
red_arrow(ax_d, 286, 352, 14570)
red_arrow(ax_d, 79, 16, 14570)

fig.text(676 / 1306, 1 - 1420 / 1438, 'Age (Ma)', ha='center', va='center',
         fontsize=22, color=INK)

fig.savefig('out.png', dpi=100)
